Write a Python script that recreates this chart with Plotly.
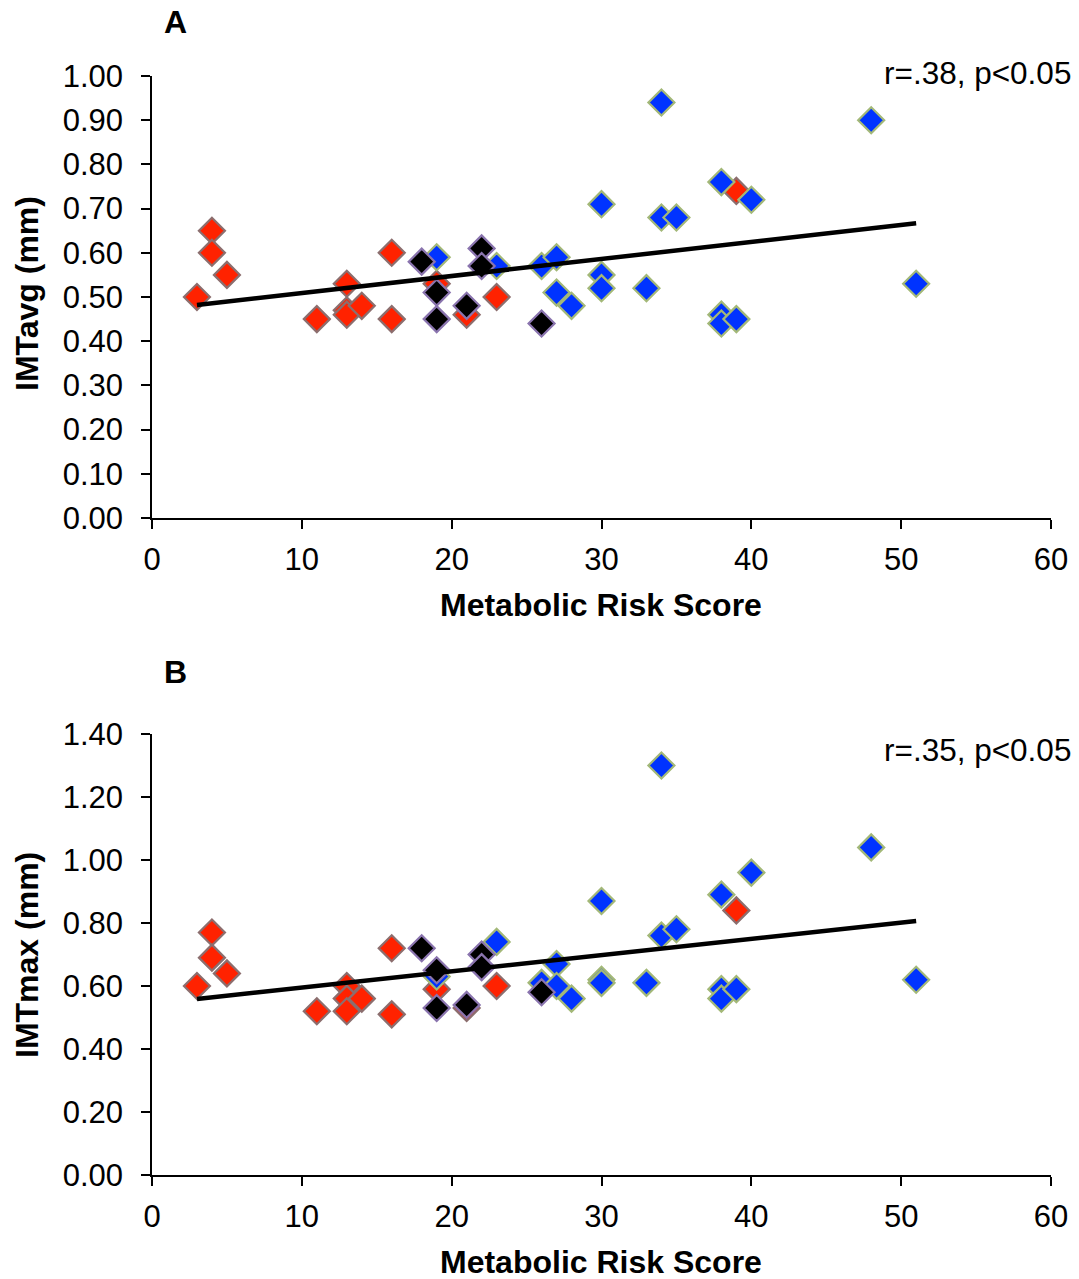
import plotly.graph_objects as go

# ---------------- data ----------------
# Panel A: IMTavg (mm)
red_x_A = [3, 4, 4, 5, 11, 13, 13, 13, 14, 16, 16, 19, 21, 23, 39]
red_y_A = [0.50, 0.65, 0.60, 0.55, 0.45, 0.53, 0.47, 0.46, 0.48, 0.60, 0.45, 0.53, 0.46, 0.50, 0.74]
blue_x_A = [19, 23, 26, 27, 27, 28, 30, 30, 30, 33, 34, 34, 35, 38, 38, 38, 39, 40, 48, 51]
blue_y_A = [0.59, 0.57, 0.57, 0.59, 0.51, 0.48, 0.71, 0.55, 0.52, 0.52, 0.94, 0.68, 0.68, 0.76, 0.46, 0.44, 0.45, 0.72, 0.90, 0.53]
black_x_A = [18, 19, 19, 21, 22, 22, 26]
black_y_A = [0.58, 0.51, 0.45, 0.48, 0.61, 0.57, 0.44]
trend_x = [3, 51]
trend_y_A = [0.482, 0.667]

# Panel B: IMTmax (mm)
red_x_B = [3, 4, 4, 5, 11, 13, 13, 13, 14, 16, 16, 19, 21, 23, 39]
red_y_B = [0.60, 0.77, 0.69, 0.64, 0.52, 0.60, 0.56, 0.52, 0.56, 0.72, 0.51, 0.59, 0.53, 0.60, 0.84]
blue_x_B = [19, 23, 26, 27, 27, 28, 30, 30, 30, 33, 34, 34, 35, 38, 38, 38, 39, 40, 48, 51]
blue_y_B = [0.63, 0.74, 0.61, 0.67, 0.60, 0.56, 0.87, 0.62, 0.61, 0.61, 1.30, 0.76, 0.78, 0.89, 0.59, 0.56, 0.59, 0.96, 1.04, 0.62]
black_x_B = [18, 19, 19, 21, 22, 22, 26]
black_y_B = [0.72, 0.65, 0.53, 0.54, 0.70, 0.66, 0.58]
trend_y_B = [0.559, 0.806]

x_ticks = [0, 10, 20, 30, 40, 50, 60]
y_ticks_A = [0.0, 0.1, 0.2, 0.3, 0.4, 0.5, 0.6, 0.7, 0.8, 0.9, 1.0]
y_ticks_B = [0.0, 0.2, 0.4, 0.6, 0.8, 1.0, 1.2, 1.4]

panel_labels = ["A", "B"]
stat_labels = ["r=.38, p<0.05", "r=.35, p<0.05"]
y_titles = ["IMTavg (mm)", "IMTmax (mm)"]
x_title = "Metabolic Risk Score"

# ---------------- style ----------------
W, H = 1079, 1279
FONT = "Liberation Sans, Arial, sans-serif"
RED, RED_EDGE = "#FF2200", "#8C6E6E"
BLUE, BLUE_EDGE = "#0033FF", "#A3B878"
BLACK, BLACK_EDGE = "#000000", "#8A74AE"
MSIZE = 20

def px_x(p):
    return p / W

def px_y(p):
    return 1 - p / H

fig = go.Figure()

panels = [
    dict(red=(red_x_A, red_y_A), blue=(blue_x_A, blue_y_A), black=(black_x_A, black_y_A),
         trend=trend_y_A, ya="y"),
    dict(red=(red_x_B, red_y_B), blue=(blue_x_B, blue_y_B), black=(black_x_B, black_y_B),
         trend=trend_y_B, ya="y2"),
]

for i, p in enumerate(panels):
    xa = "x" if i == 0 else "x2"
    for key, fill, edge in [("red", RED, RED_EDGE), ("blue", BLUE, BLUE_EDGE), ("black", BLACK, BLACK_EDGE)]:
        xs, ys = p[key]
        fig.add_trace(go.Scatter(
            x=xs, y=ys, mode="markers", xaxis=xa, yaxis=p["ya"], showlegend=False,
            marker=dict(symbol="diamond", size=MSIZE, color=fill, line=dict(color=edge, width=2.2)),
            hoverinfo="x+y"))
    fig.add_trace(go.Scatter(
        x=trend_x, y=p["trend"], mode="lines", xaxis=xa, yaxis=p["ya"], showlegend=False,
        line=dict(color="black", width=4.5), hoverinfo="skip"))

axis_common = dict(showline=True, linecolor="black", linewidth=1.5, ticks="outside",
                   ticklen=9, tickwidth=1.5, tickcolor="black", showgrid=False, zeroline=False,
                   tickfont=dict(family=FONT, size=31, color="black"), mirror=False,
                   automargin=False)

xdom = [px_x(152), px_x(1051)]
fig.update_layout(
    width=W, height=H, margin=dict(l=0, r=0, t=0, b=0, autoexpand=False),
    plot_bgcolor="white", paper_bgcolor="white",
    xaxis=dict(domain=xdom, range=[0, 60], tickvals=x_ticks, anchor="y",
               ticklabelstandoff=4, **axis_common),
    yaxis=dict(domain=[px_y(518), px_y(76)], range=[0, 1.0], tickvals=y_ticks_A,
               ticktext=[f"{v:.2f}" for v in y_ticks_A], anchor="x",
               ticklabelstandoff=12, **axis_common),
    xaxis2=dict(domain=xdom, range=[0, 60], tickvals=x_ticks, anchor="y2",
                ticklabelstandoff=4, **axis_common),
    yaxis2=dict(domain=[px_y(1175), px_y(734)], range=[0, 1.4], tickvals=y_ticks_B,
                ticktext=[f"{v:.2f}" for v in y_ticks_B], anchor="x2",
                ticklabelstandoff=12, **axis_common),
)

annots = []
panel_label_y = [22, 672]
stat_y = [73, 750]
ytitle_y = [294, 955]
xtitle_y = [605, 1262]
for i in range(2):
    annots.append(dict(text=f"<b>{panel_labels[i]}</b>", x=px_x(175), y=px_y(panel_label_y[i]),
                       xref="paper", yref="paper", showarrow=False, xanchor="center", yanchor="middle",
                       font=dict(family=FONT, size=32, color="black")))
    annots.append(dict(text=stat_labels[i], x=px_x(1073), y=px_y(stat_y[i]),
                       xref="paper", yref="paper", showarrow=False, xanchor="right", yanchor="middle",
                       font=dict(family=FONT, size=31.5, color="black")))
    annots.append(dict(text=f"<b>{y_titles[i]}</b>", x=px_x(27), y=px_y(ytitle_y[i]),
                       xref="paper", yref="paper", showarrow=False, xanchor="center", yanchor="middle",
                       textangle=-90, font=dict(family=FONT, size=32, color="black")))
    annots.append(dict(text=f"<b>{x_title}</b>", x=px_x(601), y=px_y(xtitle_y[i]),
                       xref="paper", yref="paper", showarrow=False, xanchor="center", yanchor="middle",
                       font=dict(family=FONT, size=32, color="black")))
fig.update_layout(annotations=annots)

fig.write_html("out.html")
